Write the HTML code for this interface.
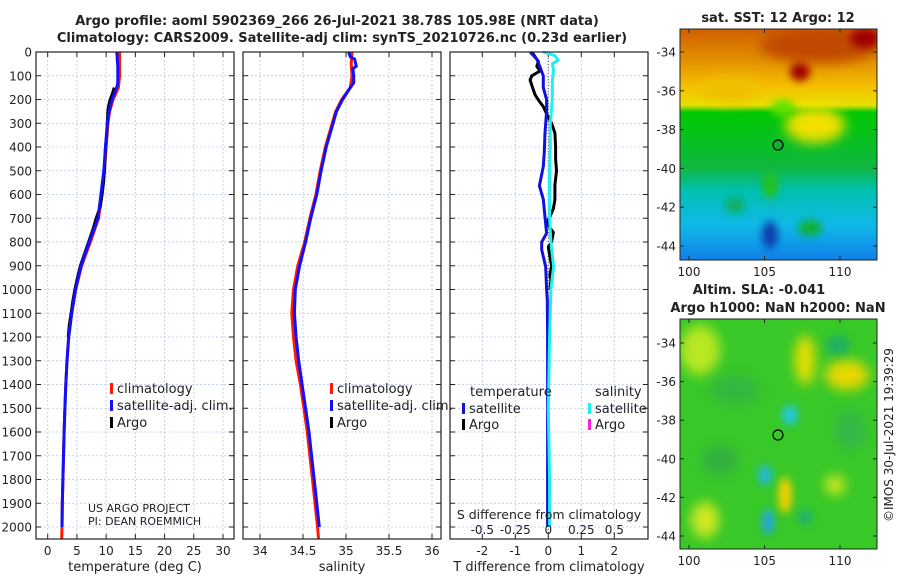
<!DOCTYPE html>
<html><head><meta charset="utf-8"><style>
html,body{margin:0;padding:0;background:#fff;width:900px;height:580px;overflow:hidden}
svg text{font-family:"DejaVu Sans","Liberation Sans",sans-serif;fill:#222}
</style></head><body>
<svg id="chart" width="900" height="580" viewBox="0 0 900 580" xmlns="http://www.w3.org/2000/svg">
<defs>
<filter id="blur6" x="-100%" y="-100%" width="300%" height="300%"><feGaussianBlur stdDeviation="6"/></filter>
<filter id="blur4" x="-100%" y="-100%" width="300%" height="300%"><feGaussianBlur stdDeviation="4"/></filter>
<clipPath id="clipM1"><rect x="680" y="29" width="197" height="231"/></clipPath>
<clipPath id="clipM2"><rect x="680" y="319" width="197" height="230"/></clipPath>
<linearGradient id="sstGrad" x1="0" y1="0" x2="0" y2="1">
<stop offset="0" stop-color="#d06000"/><stop offset="0.12" stop-color="#e08a00"/>
<stop offset="0.25" stop-color="#f5c000"/><stop offset="0.33" stop-color="#e8e000"/>
<stop offset="0.36" stop-color="#00c800"/><stop offset="0.6" stop-color="#10b840"/>
<stop offset="0.7" stop-color="#00c0b0"/><stop offset="0.85" stop-color="#10b8e8"/>
<stop offset="1" stop-color="#1080e8"/></linearGradient>
</defs>
<g id="titles">
<text x="337" y="25" font-size="13" font-weight="bold" text-anchor="middle">Argo profile: aoml 5902369_266 26-Jul-2021 38.78S 105.98E (NRT data)</text>
<text x="342" y="42" font-size="13" font-weight="bold" text-anchor="middle">Climatology: CARS2009. Satellite-adj clim: synTS_20210726.nc (0.23d earlier)</text>
</g>
<g id="plots"></g>
<g id="maps">
<g clip-path="url(#clipM1)">
<rect x="680" y="29" width="197" height="231" fill="url(#sstGrad)"/>
<ellipse cx="820" cy="45" rx="60" ry="18" fill="#c04800" filter="url(#blur6)"/>
<ellipse cx="865" cy="38" rx="15" ry="10" fill="#a00000" filter="url(#blur4)"/>
<ellipse cx="800" cy="72" rx="10" ry="9" fill="#a00000" filter="url(#blur4)"/>
<ellipse cx="730" cy="90" rx="30" ry="12" fill="#f0c000" filter="url(#blur6)"/>
<ellipse cx="815" cy="125" rx="30" ry="18" fill="#f0e000" filter="url(#blur6)"/>
<ellipse cx="783" cy="108" rx="12" ry="8" fill="#60e000" filter="url(#blur4)"/>
<ellipse cx="770" cy="185" rx="8" ry="14" fill="#20c020" filter="url(#blur4)"/>
<ellipse cx="810" cy="228" rx="12" ry="8" fill="#10b030" filter="url(#blur4)"/>
<ellipse cx="770" cy="235" rx="8" ry="14" fill="#1040b0" filter="url(#blur4)"/>
<ellipse cx="735" cy="205" rx="10" ry="8" fill="#10b060" filter="url(#blur4)"/>
</g>
<rect x="680" y="29" width="197" height="231" fill="none" stroke="#222"/>
<circle cx="778" cy="145" r="5" fill="#10b030" stroke="#000" stroke-width="1.2"/>
<g clip-path="url(#clipM2)">
<rect x="680" y="319" width="197" height="230" fill="#38c828"/>
<ellipse cx="700" cy="350" rx="20" ry="25" fill="#b8e820" filter="url(#blur6)"/>
<ellipse cx="805" cy="360" rx="10" ry="25" fill="#e8e000" filter="url(#blur6)"/>
<ellipse cx="847" cy="375" rx="22" ry="15" fill="#e8d800" filter="url(#blur6)"/>
<ellipse cx="790" cy="415" rx="8" ry="10" fill="#20c8d8" filter="url(#blur4)"/>
<ellipse cx="765" cy="475" rx="7" ry="10" fill="#20b8d8" filter="url(#blur4)"/>
<ellipse cx="768" cy="522" rx="6" ry="13" fill="#20a8e0" filter="url(#blur4)"/>
<ellipse cx="785" cy="495" rx="7" ry="18" fill="#f0d000" filter="url(#blur4)"/>
<ellipse cx="705" cy="520" rx="14" ry="18" fill="#d0e820" filter="url(#blur6)"/>
<ellipse cx="835" cy="485" rx="10" ry="10" fill="#d0e820" filter="url(#blur6)"/>
<ellipse cx="735" cy="390" rx="25" ry="15" fill="#30b840" filter="url(#blur6)"/>
<ellipse cx="838" cy="345" rx="12" ry="10" fill="#20b060" filter="url(#blur4)"/>
<ellipse cx="805" cy="517" rx="7" ry="8" fill="#20b070" filter="url(#blur4)"/>
<ellipse cx="720" cy="460" rx="18" ry="15" fill="#30b040" filter="url(#blur6)"/>
<ellipse cx="850" cy="430" rx="15" ry="20" fill="#30b848" filter="url(#blur6)"/>
</g>
<rect x="680" y="319" width="197" height="230" fill="none" stroke="#222"/>
<circle cx="778" cy="435" r="5" fill="none" stroke="#000" stroke-width="1.2"/>
<text x="778" y="22" font-size="13" font-weight="bold" text-anchor="middle">sat. SST: 12 Argo: 12</text>
<text x="759" y="294" font-size="13" font-weight="bold" text-anchor="middle">Altim. SLA: -0.041</text>
<text x="778" y="312" font-size="13" font-weight="bold" text-anchor="middle">Argo h1000: NaN h2000: NaN</text>
<text transform="translate(893,435) rotate(-90)" font-size="12" text-anchor="middle">©IMOS 30-Jul-2021 19:39:29</text>
</g>
</svg>
<script>
// ---- data ----
const depthTicks = [0,100,200,300,400,500,600,700,800,900,1000,1100,1200,1300,1400,1500,1600,1700,1800,1900,2000];
const tempTicks = [0,5,10,15,20,25,30];
const salTicks = [34,34.5,35,35.5,36];
const salTickLabels = ["34","34.5","35","35.5","36"];
const tdiffTicks = [-2,-1,0,1,2];
const sdiffTicks = [-0.5,-0.25,0,0.25,0.5];
const sdiffTickLabels = ["-0.5","-0.25","0","0.25","0.5"];

const climDepth = [0,50,100,150,200,250,300,400,500,600,700,800,900,1000,1100,1200,1300,1400,1500,1600,1700,1800,1900,2000,2050];
const climTemp = [12.3,12.3,12.3,12.1,11.2,10.6,10.3,10.0,9.7,9.3,8.7,7.3,5.8,4.8,4.1,3.6,3.3,3.1,2.95,2.8,2.7,2.6,2.5,2.45,2.4];
const climSal = [35.07,35.06,35.07,35.05,34.95,34.88,34.84,34.76,34.70,34.65,34.58,34.52,34.44,34.39,34.37,34.39,34.42,34.47,34.51,34.55,34.58,34.61,34.64,34.67,34.68];

const satDepth = [0,20,30,60,70,100,130,150,200,250,300,400,500,600,700,800,900,1000,1100,1200,1300,1400,1500,1600,1700,1800,1900,2000];
const satTemp = [11.8,11.9,11.9,12.0,12.0,12.0,12.0,11.8,11.0,10.5,10.2,9.9,9.6,9.1,8.6,7.1,5.7,4.75,4.1,3.6,3.3,3.1,2.95,2.8,2.7,2.6,2.5,2.45];
const satSal = [35.03,35.05,35.1,35.12,35.08,35.09,35.09,35.05,34.96,34.89,34.85,34.77,34.71,34.66,34.59,34.53,34.46,34.41,34.40,34.42,34.45,34.49,34.53,34.57,34.60,34.63,34.66,34.69];

const argoDepth = [150,180,200,230,250,300,350,400,450,500,550,600,650,700,750,800,850,900,950,1000,1050,1100,1150,1200];
const argoTemp = [11.4,11.0,10.7,10.4,10.3,10.2,10.1,9.9,9.8,9.7,9.55,9.3,9.0,8.3,7.7,7.0,6.3,5.6,5.1,4.65,4.3,4.0,3.7,3.5];

const tdiffSatDepth = [0,30,63,100,150,200,250,341,420,482,563,620,694,763,800,833,904,1000,1044,1200,1500,1800,2000];
const tdiffSat = [-0.55,-0.35,-0.25,-0.15,-0.15,-0.05,-0.05,-0.1,-0.12,-0.15,-0.27,-0.15,-0.1,-0.05,-0.2,-0.2,-0.08,-0.05,-0.03,-0.02,-0.02,-0.02,-0.02];
const tdiffArgoDepth = [0,20,40,60,80,100,118,140,160,180,202,230,260,300,341,400,450,500,560,623,660,694,720,760,800,820,860,900,940,960,1002];
const tdiffArgo = [-0.5,-0.4,-0.3,-0.35,-0.25,-0.5,-0.55,-0.5,-0.45,-0.4,-0.3,-0.15,-0.05,0.1,0.2,0.22,0.22,0.25,0.2,0.2,0.15,0.05,-0.05,0.15,0.1,0.0,0.05,0.1,0.05,0.08,0.05];
const sdiffSatDepth = [0,15,34,50,76,120,200,300,400,500,600,700,800,904,1000,1200,1500,1800,2000];
const sdiffSat = [-0.04,0.05,0.075,0.03,0.04,0.03,0.03,0.015,0.015,0.01,0.01,0.01,0.02,0.04,0.02,0.01,0.0,0.01,0.01];

// ---- layout ----
const NS="http://www.w3.org/2000/svg";
const root=document.getElementById('plots');
const Y0=52, Y1=539;
function yD(d){return Y0 + d*0.2375;}
function mk(tag,attrs,parent){const e=document.createElementNS(NS,tag);for(const k in attrs)e.setAttribute(k,attrs[k]);(parent||root).appendChild(e);return e;}
function scale(v0,p0,v1,p1){return v=>p0+(v-v0)*(p1-p0)/(v1-v0);}

const panels=[
 {name:'temperature-panel',x0:36,x1:234,xs:scale(0,47.7,30,223),ticks:tempTicks,labels:tempTicks.map(String),xlabel:'temperature (deg C)',showY:true},
 {name:'salinity-panel',x0:243,x1:441,xs:scale(34,260,36,432),ticks:salTicks,labels:salTickLabels,xlabel:'salinity'},
 {name:'difference-panel',x0:450,x1:648,xs:scale(0,548.3,2,614.3),ticks:tdiffTicks,labels:tdiffTicks.map(String),xlabel:'T difference from climatology'}
];
const sdx=scale(0,548.3,0.5,614.3);

panels.forEach(p=>{
 const g=mk('g',{});
 
 
 depthTicks.forEach(d=>{
  const l=mk('line',{x1:p.x0,x2:p.x1,y1:yD(d),y2:yD(d),stroke:'#b8c4ee','stroke-width':0.8,'stroke-dasharray':'2,2'},g);
  
  
  mk('line',{x1:p.x0,x2:p.x0+5,y1:yD(d),y2:yD(d),stroke:'#222'},g);
  mk('line',{x1:p.x1-5,x2:p.x1,y1:yD(d),y2:yD(d),stroke:'#222'},g);
  if(p.showY){const t=mk('text',{x:p.x0-4,y:yD(d)+4.5,'font-size':12,'text-anchor':'end'},g);t.textContent=d;
   
   }
 });
 p.ticks.forEach((v,i)=>{
  const x=p.xs(v);
  const l=mk('line',{x1:x,x2:x,y1:Y0,y2:Y1,stroke:'#b8c4ee','stroke-width':0.8,'stroke-dasharray':'2,2'},g);
  
  
  mk('line',{x1:x,x2:x,y1:Y1-5,y2:Y1,stroke:'#222'},g);
  mk('line',{x1:x,x2:x,y1:Y0,y2:Y0+5,stroke:'#222'},g);
  const t=mk('text',{x:x,y:555,'font-size':12,'text-anchor':'middle'},g);t.textContent=p.labels[i];
  
  
 });
 const xl=mk('text',{x:(p.x0+p.x1)/2,y:571,'font-size':13,'text-anchor':'middle'},g);xl.textContent=p.xlabel;
 
 
 p.g=g;
});

function line(g,xs,vals,depths,color,w,name,dash){
 const pts=vals.map((v,i)=>xs(v).toFixed(1)+','+yD(depths[i]).toFixed(1)).join(' ');
 const a={points:pts,fill:'none',stroke:color,'stroke-width':w,'stroke-linejoin':'round'};
 if(dash)a['stroke-dasharray']=dash;
 const e=mk('polyline',a,g);
 
 
}
const P=panels;
line(P[0].g,P[0].xs,climTemp,climDepth,'#ff1a00',3,'temp-climatology-line');
line(P[0].g,P[0].xs,argoTemp,argoDepth,'#000',3,'temp-argo-line');
line(P[0].g,P[0].xs,satTemp,satDepth,'#1010ff',3,'temp-satellite-line');
line(P[1].g,P[1].xs,climSal,climDepth,'#ff1a00',3,'sal-climatology-line');
line(P[1].g,P[1].xs,satSal,satDepth,'#1010ff',3,'sal-satellite-line');
const z=mk('line',{x1:P[2].xs(0),x2:P[2].xs(0),y1:Y0,y2:Y1,stroke:'#555','stroke-dasharray':'1,2'},P[2].g);


line(P[2].g,P[2].xs,tdiffArgo,tdiffArgoDepth,'#000',3,'tdiff-argo-line');
line(P[2].g,P[2].xs,tdiffSat,tdiffSatDepth,'#1010e0',3,'tdiff-satellite-line');
line(P[2].g,sdx,sdiffSat,sdiffSatDepth,'#20f0f0',3,'sdiff-satellite-line');

const st=mk('text',{x:549,y:519,'font-size':12.5,'text-anchor':'middle'},P[2].g);st.textContent='S difference from climatology';


sdiffTicks.forEach((v,i)=>{
 const t=mk('text',{x:sdx(v),y:534,'font-size':12,'text-anchor':'middle'},P[2].g);t.textContent=sdiffTickLabels[i];
 
 
});

panels.forEach(p=>{const r=mk('rect',{x:p.x0,y:Y0,width:p.x1-p.x0,height:Y1-Y0,fill:'none',stroke:'#222','stroke-width':1.2},p.g);
 
 });

function legend(g,x,y,color,label,name){
 mk('rect',{x:x,y:y-8,width:3,height:11,fill:color},g);
 const t=mk('text',{x:x+7,y:y+2,'font-size':13},g);t.textContent=label;
 
 
}
legend(P[0].g,110,391,'#ff1a00','climatology','legend-climatology');
legend(P[0].g,110,408,'#1010ff','satellite-adj. clim.','legend-satellite-adj');
legend(P[0].g,110,425,'#000','Argo','legend-argo');
legend(P[1].g,330,391,'#ff1a00','climatology','legend-climatology');
legend(P[1].g,330,408,'#1010ff','satellite-adj. clim.','legend-satellite-adj');
legend(P[1].g,330,425,'#000','Argo','legend-argo');
const tl=mk('text',{x:470,y:396,'font-size':13},P[2].g);tl.textContent='temperature';


const sl=mk('text',{x:595,y:396,'font-size':13},P[2].g);sl.textContent='salinity';


legend(P[2].g,462,411,'#1010e0','satellite','legend-temp-satellite');
legend(P[2].g,462,427,'#000','Argo','legend-temp-argo');
legend(P[2].g,588,411,'#20f0f0','satellite','legend-sal-satellite');
legend(P[2].g,588,427,'#ff20e0','Argo','legend-sal-argo');

const c1=mk('text',{x:88,y:512,'font-size':11},P[0].g);c1.textContent='US ARGO PROJECT';


const c2=mk('text',{x:88,y:525,'font-size':11},P[0].g);c2.textContent='PI: DEAN ROEMMICH';



const maps=document.getElementById('maps');
const lonTicks=[100,105,110];
const latTicks=[-34,-36,-38,-40,-42,-44];
const lonX=scale(100,689,110,840);
[[52,246,260,29,'sst'],[343,536,549,319,'sla']].forEach(m=>{
 const ly=scale(-34,m[0],-44,m[1]);
 latTicks.forEach(v=>{
  mk('line',{x1:680,x2:684,y1:ly(v),y2:ly(v),stroke:'#222'},maps);
  mk('line',{x1:873,x2:877,y1:ly(v),y2:ly(v),stroke:'#222'},maps);
  const t=mk('text',{x:676,y:ly(v)+4.5,'font-size':12,'text-anchor':'end'},maps);t.textContent=v;
  
  
 });
 lonTicks.forEach(v=>{
  mk('line',{x1:lonX(v),x2:lonX(v),y1:m[2]-4,y2:m[2],stroke:'#222'},maps);
  mk('line',{x1:lonX(v),x2:lonX(v),y1:m[3],y2:m[3]+4,stroke:'#222'},maps);
  const t=mk('text',{x:lonX(v),y:m[2]+16,'font-size':12,'text-anchor':'middle'},maps);t.textContent=v;
  
  
 });
});
</script>
</body></html>
